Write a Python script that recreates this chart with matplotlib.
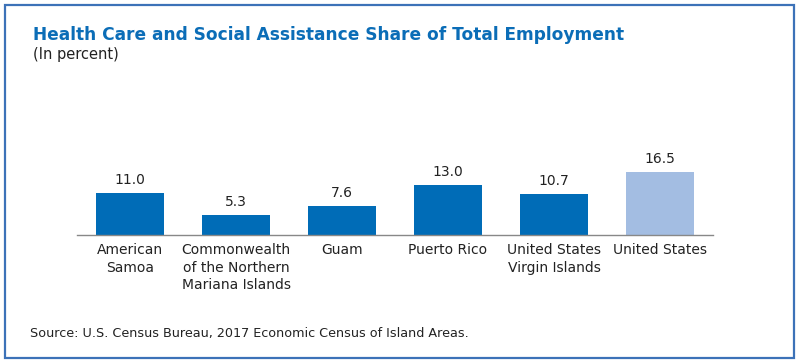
import matplotlib.pyplot as plt
from matplotlib.patches import Rectangle

categories = ['American\nSamoa', 'Commonwealth\nof the Northern\nMariana Islands', 'Guam',
              'Puerto Rico', 'United States\nVirgin Islands', 'United States']
values = [11.0, 5.3, 7.6, 13.0, 10.7, 16.5]
colors = ['#006cb7'] * 5 + ['#a3bde2']

W, H = 800, 363
fig = plt.figure(figsize=(W / 100, H / 100), dpi=100)

# outer border
fig.patches.append(Rectangle((5 / W, 1 - 358 / H), 789 / W, 353 / H, transform=fig.transFigure,
                             fill=False, edgecolor='#3c72b8', linewidth=1.6))

fig.text(33 / W, 1 - 35 / H, 'Health Care and Social Assistance Share of Total Employment',
         color='#0b6db7', fontsize=12.25, fontweight='bold', va='center', ha='left')
fig.text(33 / W, 1 - 54 / H, '(In percent)', color='#222222', fontsize=10.5, va='center', ha='left')
fig.text(30 / W, 1 - 333 / H, 'Source: U.S. Census Bureau, 2017 Economic Census of Island Areas.',
         color='#222222', fontsize=9.2, va='center', ha='left')

ax = fig.add_axes([77 / W, 1 - 235 / H, 636 / W, 76.4 / H])
x = range(len(values))
bars = ax.bar(x, values, width=0.64, color=colors)
ax.set_xlim(-0.5, 5.5)
ax.set_ylim(0, 20)
for xi, v in zip(x, values):
    ax.annotate(f'{v:.1f}', (xi, v), xytext=(0, 4.5), textcoords='offset points',
                ha='center', va='bottom', fontsize=10, color='#222222')
for s in ['top', 'right', 'left']:
    ax.spines[s].set_visible(False)
ax.spines['bottom'].set_color('#888888')
ax.spines['bottom'].set_linewidth(1)
ax.set_yticks([])
ax.set_xticks(list(x))
ax.set_xticklabels(categories, fontsize=10, color='#222222', va='top', linespacing=1.3)
ax.tick_params(axis='x', length=0, pad=6)

fig.savefig('out.png', dpi=100)
